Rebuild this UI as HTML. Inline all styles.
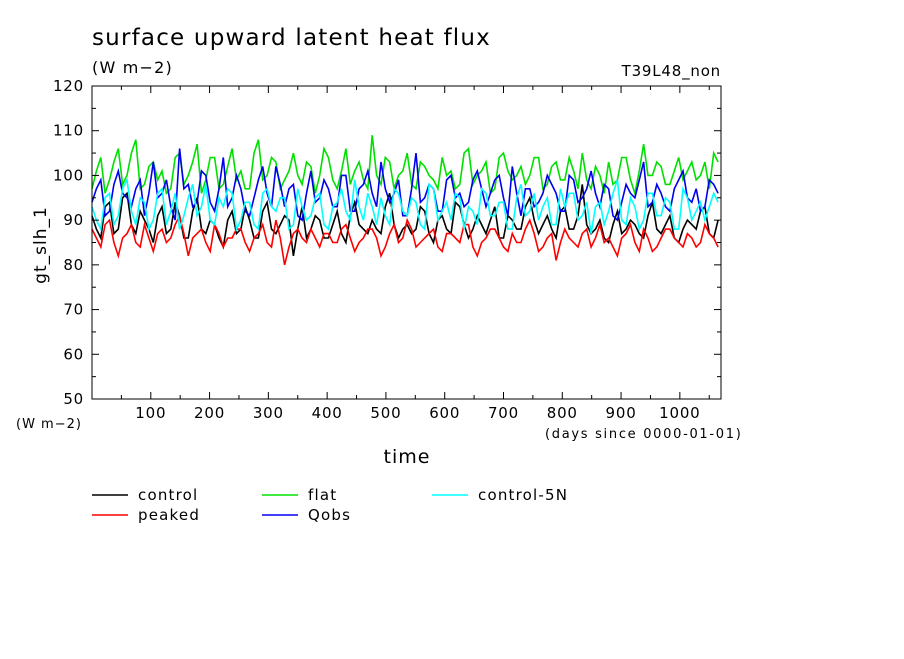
<!DOCTYPE html>
<html><head><meta charset="utf-8"><style>
body{margin:0;background:#fff;width:904px;height:654px;overflow:hidden}
svg text{font-family:"DejaVu Sans","Liberation Sans",sans-serif;fill:#000}
</style></head><body>
<svg id="chart" width="904" height="654" xmlns="http://www.w3.org/2000/svg">
<text x="92" y="45" font-size="23" letter-spacing="1.2">surface upward latent heat flux</text>
<text x="92" y="73" font-size="16" letter-spacing="1.2">(W m−2)</text>
<text x="721" y="76" font-size="15" letter-spacing="0.8" text-anchor="end">T39L48_non</text>
<text x="16" y="428" font-size="13" letter-spacing="1">(W m−2)</text>
<text x="545" y="438" font-size="13" letter-spacing="1.7">(days since 0000-01-01)</text>
<text x="407" y="463" font-size="19" letter-spacing="1" text-anchor="middle">time</text>
<text x="0" y="0" font-size="17" letter-spacing="1" text-anchor="middle" transform="translate(46,245) rotate(-90)">gt_slh_1</text>
<g id="plot"></g>
<g id="legend"></g>
</svg>
<script>
const firstDay=0, lastDay=1065;
const controlVals=[91,88,86,93,94,87,88,95,96,89,87,92,90,88,85,91,93,87,88,94,91,86,86,92,95,88,87,90,89,86,84,90,92,87,88,93,90,86,86,92,94,88,87,89,91,90,82,88,93,86,88,91,90,86,86,89,92,87,85,91,94,89,88,87,90,88,87,93,96,89,86,88,89,87,88,93,92,87,85,90,91,88,87,94,93,89,86,88,91,89,87,90,93,86,86,91,90,88,88,93,95,90,87,89,91,88,86,92,93,88,88,91,98,89,87,88,90,86,85,89,92,87,88,90,89,87,86,91,94,88,87,89,91,86,85,88,90,89,88,92,93,87,86,90];
const peakedVals=[88,86,84,89,90,85,82,86,87,89,85,84,89,86,83,87,88,85,86,89,91,87,82,86,87,88,85,83,89,87,84,86,86,88,88,85,83,86,87,89,85,84,90,86,80,84,87,88,86,85,88,86,84,87,87,85,85,88,89,86,83,85,86,88,88,86,82,84,87,89,85,86,90,88,84,85,86,87,88,84,83,87,87,86,85,89,89,84,82,85,86,88,88,86,84,83,87,85,85,88,90,87,83,84,86,87,81,85,88,86,85,84,87,88,84,86,89,85,86,84,82,86,87,89,85,83,88,86,83,84,86,88,88,86,85,84,87,86,84,85,89,87,86,84];
const flatVals=[97,101,104,96,99,103,106,98,100,105,108,97,98,102,103,99,101,96,97,104,105,98,100,103,107,96,99,104,104,97,98,102,106,99,101,97,97,105,108,99,100,104,103,97,99,101,105,100,98,103,102,96,100,106,104,99,97,101,106,98,101,103,99,97,109,100,98,104,103,97,100,101,105,98,97,103,102,100,99,97,104,100,101,97,98,105,106,98,100,101,103,96,97,104,105,101,99,100,102,98,100,104,104,97,98,102,103,99,99,104,101,97,105,99,97,102,100,96,103,98,99,104,104,99,96,101,107,100,100,103,102,98,98,101,104,99,101,103,99,100,103,97,105,103];
const qobsVals=[94,97,99,91,92,98,101,96,95,93,97,99,91,96,103,95,96,99,93,90,106,97,98,93,94,101,100,94,92,97,104,93,95,100,97,92,91,95,99,102,96,93,102,98,93,97,98,91,90,96,101,94,95,99,97,93,93,100,100,92,92,97,98,101,96,93,103,97,94,96,99,91,91,97,105,94,95,98,97,92,92,99,100,95,96,93,94,99,101,97,93,96,99,100,95,91,102,96,91,97,97,93,94,96,100,98,96,92,92,100,99,94,95,97,101,96,93,98,97,91,90,94,98,96,95,99,103,93,94,98,96,93,92,97,99,101,95,94,97,92,93,99,98,96];
const control5NVals=[93,90,88,95,96,89,91,97,99,92,89,95,94,88,90,96,97,89,92,96,88,91,95,98,91,93,98,90,89,95,93,97,96,88,90,94,94,89,88,96,97,93,92,95,95,88,89,97,93,90,91,95,96,89,88,93,94,97,92,90,99,93,90,96,93,89,95,91,89,97,96,92,91,95,94,89,88,98,97,90,92,94,90,96,95,88,93,92,89,97,96,91,91,94,94,88,88,95,98,91,92,96,90,93,95,89,89,97,93,96,96,90,91,94,87,93,94,89,92,96,99,90,89,95,93,88,90,96,96,91,91,95,94,88,88,97,95,90,92,94,90,93,96,94];
const yTicks=[50,60,70,80,90,100,110,120];
const xTicks=[100,200,300,400,500,600,700,800,900,1000];

const NS="http://www.w3.org/2000/svg";
const L=92,R=721,T=86,B=399,X0=0,X1=1070,Y0=50,Y1=120;
const xs=d=>L+(d-X0)/(X1-X0)*(R-L);
const ys=v=>B-(v-Y0)/(Y1-Y0)*(B-T);
const plot=document.getElementById('plot');
function mk(tag,attrs,parent){const e=document.createElementNS(NS,tag);for(const k in attrs)e.setAttribute(k,attrs[k]);parent.appendChild(e);return e;}

const series=[["control",controlVals,"#000"],["peaked",peakedVals,"#f00"],["flat",flatVals,"#00e000"],["qobs",qobsVals,"#0000f0"],["control-5n",control5NVals,"#00ffff"]];
series.forEach(([n,vals,c])=>{
  const step=(lastDay-firstDay)/(vals.length-1);
  const p=mk('polyline',{points:vals.map((v,i)=>xs(firstDay+i*step).toFixed(1)+","+ys(v).toFixed(1)).join(" "),fill:"none",stroke:c,"stroke-width":1.6},plot);
  
  
});
const frame=mk('rect',{x:L,y:T,width:R-L,height:B-T,fill:"none",stroke:"#000","stroke-width":1},plot);


for(let v=Y0;v<=Y1;v+=5){
  const len=v%10===0?7:4;
  mk('line',{x1:L,x2:L+len,y1:ys(v),y2:ys(v),stroke:"#000"},plot);
  mk('line',{x1:R,x2:R-len,y1:ys(v),y2:ys(v),stroke:"#000"},plot);
}
yTicks.forEach(v=>{
  const t=mk('text',{x:L-8,y:ys(v)+5,"font-size":15,"letter-spacing":0.8,"text-anchor":"end"},plot);t.textContent=v;
  
  
});
for(let d=50;d<X1;d+=50){
  const len=d%100===0?7:4;
  mk('line',{x1:xs(d),x2:xs(d),y1:B,y2:B-len,stroke:"#000"},plot);
  mk('line',{x1:xs(d),x2:xs(d),y1:T,y2:T+len,stroke:"#000"},plot);
}
xTicks.forEach(d=>{
  const t=mk('text',{x:xs(d),y:B+19,"font-size":15,"letter-spacing":0.8,"text-anchor":"middle"},plot);t.textContent=d;
  
  
});
const leg=document.getElementById('legend');
const legItems=[["control","#000",92,495],["peaked","#f00",92,515],["flat","#00e000",262,495],["Qobs","#0000f0",262,515],["control-5N","#00ffff",432,495]];
legItems.forEach(([n,c,x,y])=>{
  mk('line',{x1:x,x2:x+36,y1:y,y2:y,stroke:c,"stroke-width":1.6},leg);
  const t=mk('text',{x:x+46,y:y+5,"font-size":15,"letter-spacing":1.2},leg);t.textContent=n;
  
  
});
</script>
</body></html>
